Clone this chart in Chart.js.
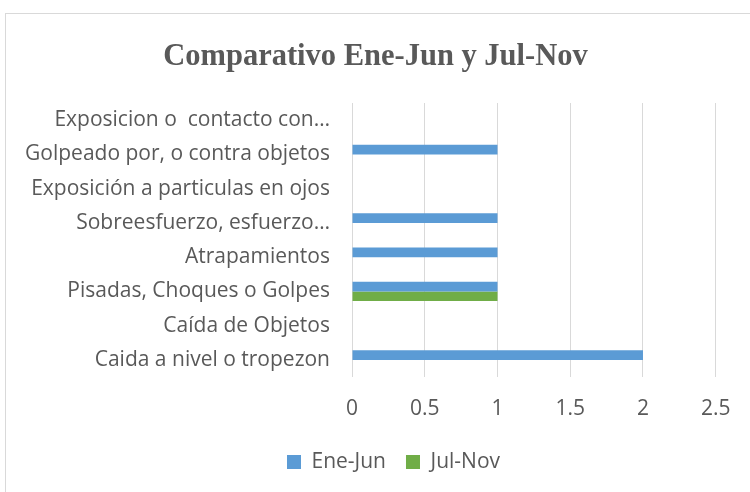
<!DOCTYPE html>
<html>
<head>
<meta charset="utf-8">
<script src="https://cdn.jsdelivr.net/npm/chart.js@4"></script>
<style>
  body { margin: 0; background: #fff; }
  #frame { position: absolute; left: 5px; top: 13px; width: 800px; height: 600px; border: 1px solid #d9d9d9; }
  #wrap { position: absolute; left: 0; top: 0; width: 750px; height: 492px; }
</style>
</head>
<body>
<div id="frame"></div>
<div id="wrap"><canvas id="accChart" width="750" height="492"></canvas></div>
<script>
const categories = [
    'Exposicion o  contacto con…',
    'Golpeado por, o contra objetos',
    'Exposición a particulas en ojos',
    'Sobreesfuerzo, esfuerzo…',
    'Atrapamientos',
    'Pisadas, Choques o Golpes',
    'Caída de Objetos',
    'Caida a nivel o tropezon'
];
const eneJun = [0, 1, 0, 1, 1, 1, 0, 2];
const julNov = [0, 0, 0, 0, 0, 1, 0, 0];
const xTicks = [0, 0.5, 1, 1.5, 2, 2.5];

const textColor = '#595959';
const labelFont = { family: "'Open Sans', sans-serif", size: 21 };

// Excel centres title and legend on the whole frame, not on the plot side
const boxShift = {
    id: 'boxShift',
    afterLayout(chart) {
        chart.legend.left += 35;
        chart.legend.right += 35;
        chart.titleBlock.left += 17;
        chart.titleBlock.right += 17;
    }
};

const ctx = document.getElementById('accChart').getContext('2d');

new Chart(ctx, {
    type: 'bar',
    data: {
        labels: categories,
        datasets: [
            { label: 'Ene-Jun', data: eneJun, backgroundColor: '#5B9BD5' },
            { label: 'Jul-Nov', data: julNov, backgroundColor: '#70AD47' }
        ]
    },
    plugins: [boxShift],
    options: {
        indexAxis: 'y',
        responsive: false,
        animation: false,
        layout: { padding: { left: 0, right: 33, top: 0, bottom: 10.5 } },
        datasets: { bar: { barPercentage: 1, categoryPercentage: 0.56 } },
        scales: {
            x: {
                min: 0,
                max: 2.5,
                afterBuildTicks: scale => { scale.ticks = xTicks.map(v => ({ value: v })); },
                afterFit: scale => { scale.height = 54.5; },
                grid: { color: '#d9d9d9', drawTicks: false },
                border: { display: false },
                ticks: { color: textColor, font: labelFont, padding: 19.5, callback: v => String(v) }
            },
            y: {
                afterFit: scale => { scale.width = 352; },
                grid: { display: false },
                border: { display: false },
                ticks: { color: textColor, font: labelFont, padding: 14, autoSkip: false }
            }
        },
        plugins: {
            title: {
                display: true,
                text: 'Comparativo Ene-Jun y Jul-Nov',
                color: textColor,
                font: { family: "'Liberation Serif', serif", size: 30.5, weight: 'bold' },
                padding: { top: 38.5, bottom: 27.9 }
            },
            legend: {
                position: 'bottom',
                maxHeight: 50,
                labels: { color: textColor, font: labelFont, boxWidth: 14, boxHeight: 14, padding: 20 }
            },
            tooltip: { enabled: false }
        }
    }
});
</script>
</body>
</html>
